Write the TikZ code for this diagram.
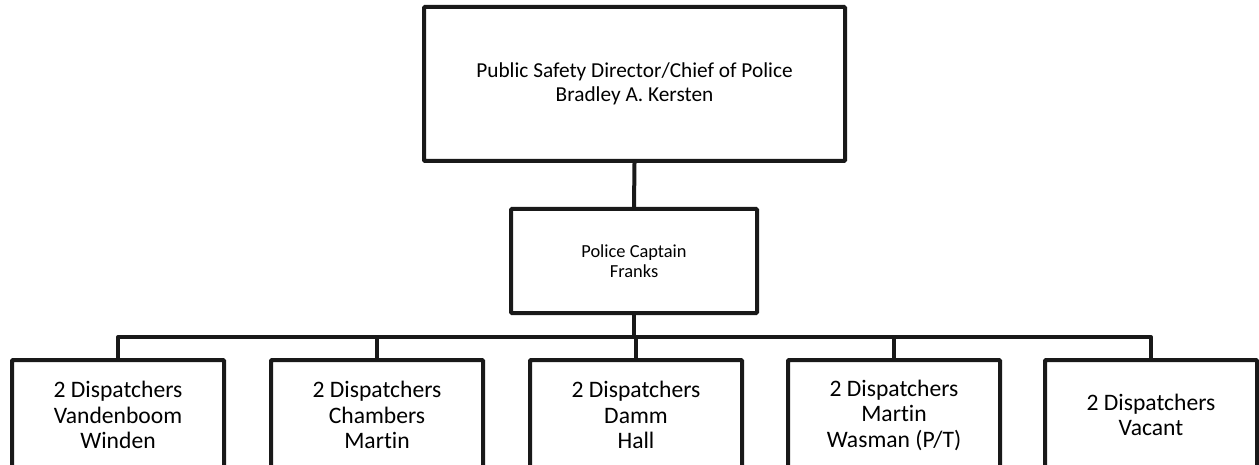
\documentclass[tikz,border=0pt]{standalone}
\usepackage{fontspec}
\setmainfont{Carlito}[Ligatures=NoCommon]
\begin{document}
\begin{tikzpicture}[x=1pt,y=-1pt,
  box/.style={draw=black!90, line width=4pt, rounded corners=1pt, align=center, inner sep=0pt},
  toptxt/.style={font=\fontsize{21.3}{24.5}\selectfont},
  bigtxt/.style={font=\fontsize{23.6}{25.5}\selectfont},
  smalltxt/.style={font=\fontsize{18.4}{20}\selectfont},
  conn/.style={draw=black!90, line width=4pt, line join=round}]
\useasboundingbox (0,0) rectangle (1259,465);
\clip (0,0) rectangle (1259,465);
\node[box,toptxt,minimum width=421pt,minimum height=154pt] (top) at (634.5,84)
  {Public Safety Director/Chief of Police\\Bradley A. Kersten};
\node[box,smalltxt,minimum width=246pt,minimum height=104pt] (mid) at (634,261)
  {Police Captain\\Franks};
\coordinate (bus) at (636,337);
\foreach \i/\x/\t in {1/118/{2 Dispatchers\\Vandenboom\\Winden},
                      2/377/{2 Dispatchers\\Chambers\\Martin},
                      3/636/{2 Dispatchers\\Damm\\Hall},
                      4/894/{2 Dispatchers\\Martin\\Wasman (P/T)},
                      5/1151/{2 Dispatchers\\Vacant}}{
  \node[box,bigtxt,minimum width=212pt,minimum height=110pt] (b\i) at (\x,415) {\t};
}
\draw[conn] (top.south) -- (mid.north);
\draw[conn] (mid.south) -- (mid.south |- bus);
\draw[conn] (b1.north) -- (b1.north |- bus) -- (b5.north |- bus) -- (b5.north);
\draw[conn] (b2.north) -- (b2.north |- bus);
\draw[conn] (b3.north) -- (b3.north |- bus);
\draw[conn] (b4.north) -- (b4.north |- bus);
\end{tikzpicture}
\end{document}
